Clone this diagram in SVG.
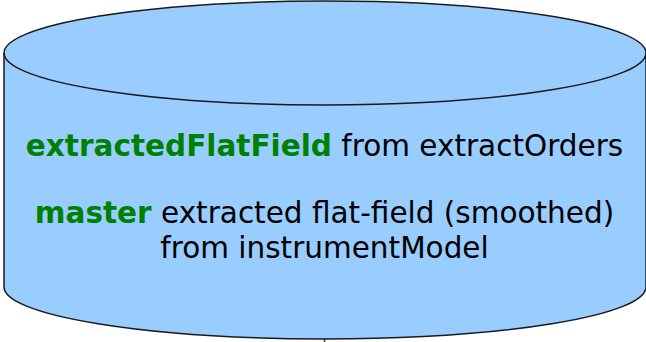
<svg xmlns="http://www.w3.org/2000/svg" width="646" height="342" viewBox="0 0 646 342">
<style>
.shape{fill:#99ccff;stroke:#1a1a1a;stroke-width:1.5}
.t{font-family:"DejaVu Sans",sans-serif;font-size:29.5px;fill:#000}
.k{font-weight:bold;fill:#008000}
.conn{stroke:#333;stroke-width:1.5;fill:none}
</style>
<g id="store">
<path class="shape" d="M4,53 L4,287 A321,52 0 0 0 646,287 L646,53 A321,52 0 0 0 4,53 Z"/>
<path class="shape" style="fill:none" d="M4,53 A321,52 0 0 0 646,53"/>
<text class="t" text-anchor="middle" x="324.5" y="156"><tspan class="k">extractedFlatField</tspan> from extractOrders</text>
<text class="t" text-anchor="middle" x="324.5" y="223"><tspan class="k">master</tspan> extracted flat-field (smoothed)</text>
<text class="t" text-anchor="middle" x="324.5" y="258">from instrumentModel</text>
</g>
<g id="connectors">
<line class="conn" x1="324.5" y1="339" x2="324.5" y2="342"/>
</g>
</svg>
